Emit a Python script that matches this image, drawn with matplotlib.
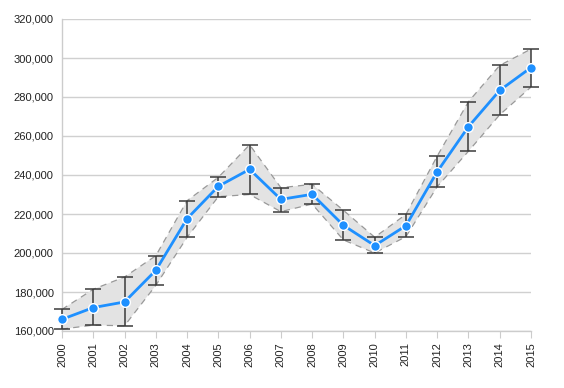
import matplotlib
matplotlib.use("Agg")
import matplotlib.pyplot as plt
from matplotlib.ticker import FuncFormatter

years = list(range(2000, 2016))
values = [166000, 172000, 174900, 191100, 217600, 234200, 242900, 227500,
          230100, 214200, 203800, 214000, 241700, 264800, 283400, 295100]
upper = [171100, 181400, 187700, 198600, 226800, 238800, 255500, 233500,
         235200, 221900, 208100, 219800, 249700, 277600, 296200, 304600]
lower = [161000, 163000, 162700, 183400, 208000, 228900, 230000, 221200,
         225100, 206700, 200000, 208400, 234000, 252200, 270900, 285100]

plt.rcParams['font.family'] = ['Liberation Sans', 'DejaVu Sans']
fig = plt.figure(figsize=(5.64, 3.88), dpi=100)
ax = fig.add_axes([62/564, 1-331/388, (531-62)/564, (331-19)/388])

ax.fill_between(years, lower, upper, facecolor='#e3e3e3', edgecolor='none', zorder=1)
ax.plot(years, upper, color='#999999', lw=0.9, ls=(0, (5, 4)), zorder=2)
ax.plot(years, lower, color='#999999', lw=0.9, ls=(0, (5, 4)), zorder=2)

yerr = [[v - l for v, l in zip(values, lower)], [u - v for u, v in zip(upper, values)]]
eb = ax.errorbar(years, values, yerr=yerr, fmt='none', ecolor='#3a3a3a', elinewidth=1.1,
                 capsize=5.5, capthick=1.1, zorder=3)
for art in eb.lines[1] + eb.lines[2]:
    art.set_clip_on(False)
ax.plot(years, values, color='#1e90ff', lw=2, marker='o', markersize=7,
        markerfacecolor='#1e90ff', markeredgecolor='white', markeredgewidth=1,
        zorder=4, clip_on=False)

ax.set_xlim(2000, 2015)
ax.set_ylim(160000, 320000)
ax.set_yticks(range(160000, 320001, 20000))
ax.yaxis.set_major_formatter(FuncFormatter(lambda v, p: f"{int(v):,}"))
ax.set_xticks(years)
ax.set_xticklabels([str(y) for y in years], rotation=90)

ax.grid(axis='y', color='#d0d0d0', lw=1)
ax.set_axisbelow(True)
for s in ['top', 'right']:
    ax.spines[s].set_visible(False)
for s in ['left', 'bottom']:
    ax.spines[s].set_color('#cccccc')
    ax.spines[s].set_linewidth(1)
ax.tick_params(axis='y', length=0, labelsize=8, pad=6, colors='#222222')
ax.tick_params(axis='x', length=5, color='#cccccc', labelsize=8, pad=3, labelcolor='#222222')

fig.savefig('out.png', dpi=100)
